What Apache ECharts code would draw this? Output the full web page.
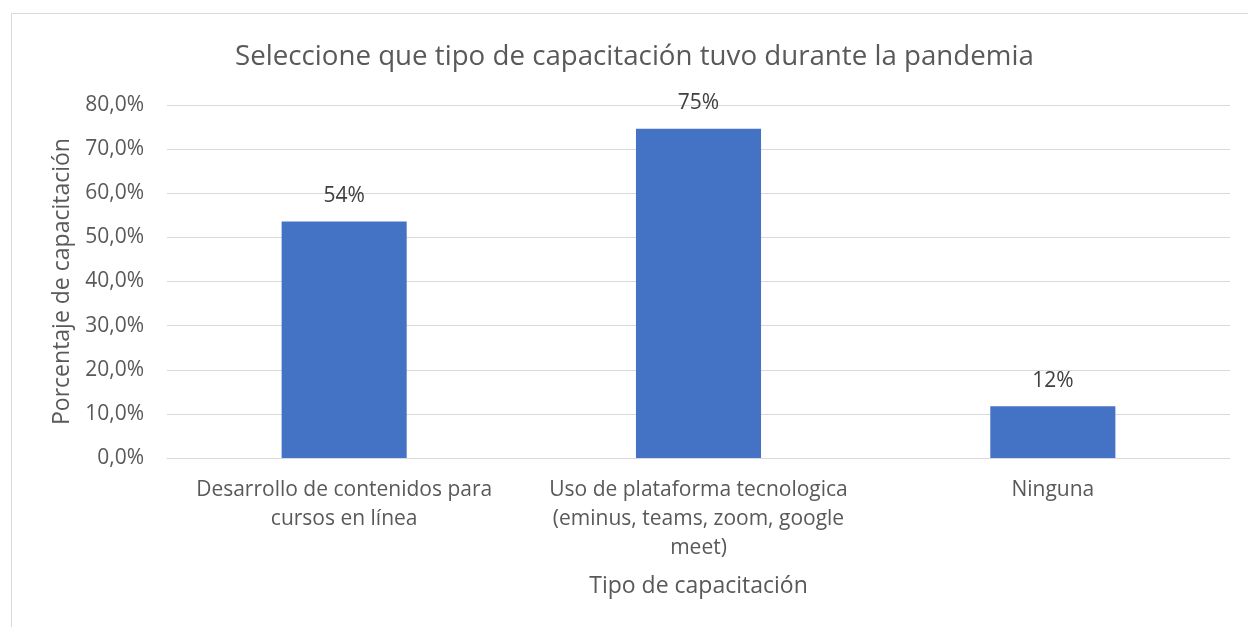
<!DOCTYPE html>
<html>
<head>
<meta charset="utf-8">
<script src="https://cdn.jsdelivr.net/npm/echarts@6/dist/echarts.min.js"></script>
<style>
  html, body { margin: 0; padding: 0; background: #fff; overflow: hidden; }
  .frame {
    position: absolute; left: 11px; top: 13px;
    width: 1300px; height: 700px;
    border: 1px solid #d9d9d9;
  }
  #chart { position: absolute; left: 0; top: 0; width: 1248px; height: 627px; }
</style>
</head>
<body>
<div class="frame"></div>
<div id="chart"></div>
<script>
const categories = [
  'Desarrollo de contenidos para\ncursos en línea',
  'Uso de plataforma tecnologica\n(eminus, teams, zoom, google\nmeet)',
  'Ninguna'
]
const values = [0.536, 0.746, 0.117]
const yTicks = [0, 0.1, 0.2, 0.3, 0.4, 0.5, 0.6, 0.7, 0.8]

const font = '"Open Sans", "Noto Sans", sans-serif'
const textColor = '#595959'

const chart = echarts.init(document.getElementById('chart'))
chart.setOption({
  animation: false,
  textStyle: { fontFamily: font },
  title: {
    text: 'Seleccione que tipo de capacitación tuvo durante la pandemia',
    left: 230,
    top: 38,
    textStyle: { fontFamily: font, fontSize: 27.7, fontWeight: 'normal', color: textColor }
  },
  grid: { left: 167, right: 18, top: 105, bottom: 169, containLabel: false },
  xAxis: {
    type: 'category',
    data: categories,
    name: 'Tipo de capacitación',
    nameLocation: 'middle',
    nameGap: 117,
    nameTextStyle: { fontSize: 23, color: textColor },
    axisLine: { lineStyle: { color: '#d9d9d9', width: 1 } },
    axisTick: { show: false },
    axisLabel: { fontSize: 21, color: textColor, lineHeight: 29, margin: 18, interval: 0 }
  },
  yAxis: {
    type: 'value',
    min: yTicks[0],
    max: yTicks[yTicks.length - 1],
    interval: 0.1,
    name: 'Porcentaje de capacitación',
    nameLocation: 'middle',
    nameGap: 92,
    nameTextStyle: { fontSize: 23, color: textColor },
    axisLine: { show: false },
    axisTick: { show: false },
    axisLabel: {
      fontSize: 21,
      color: textColor,
      margin: 23,
      formatter: v => (v * 100).toFixed(1).replace('.', ',') + '%'
    },
    splitLine: { lineStyle: { color: '#d9d9d9', width: 1 } }
  },
  series: [{
    type: 'bar',
    data: values,
    barWidth: '35.3%',
    itemStyle: { color: '#4472c4' },
    label: {
      show: true,
      position: 'top',
      distance: 15,
      fontSize: 21,
      color: '#404040',
      formatter: p => Math.round(p.value * 100) + '%'
    }
  }]
})
</script>
</body>
</html>
